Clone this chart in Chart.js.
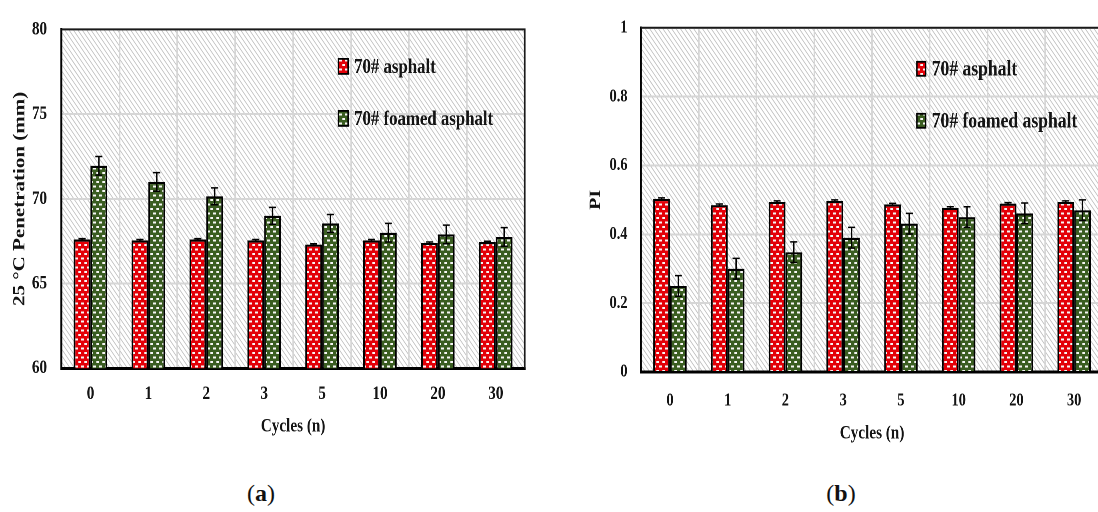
<!DOCTYPE html>
<html>
<head>
<meta charset="utf-8">
<script src="https://cdn.jsdelivr.net/npm/chart.js@4.4.1/dist/chart.umd.min.js"></script>
<style>
html,body{margin:0;padding:0;background:#fff;overflow:hidden;width:1098px;height:512px;}
.panel{position:absolute;top:0;width:700px;height:470px;transform:scaleX(0.8);transform-origin:0 0;}
#pa{left:0}
#pb{left:560px}
.cap{position:absolute;top:480px;font-family:'Liberation Serif',serif;font-size:24px;color:#111;transform:translateX(-50%);}
</style>
</head>
<body>
<div class="panel" id="pa"><canvas id="ca"></canvas></div>
<div class="panel" id="pb"><canvas id="cb"></canvas></div>
<div class="cap" style="left:261px">(<b>a</b>)</div>
<div class="cap" style="left:841px">(<b>b</b>)</div>
<script>
/* ---- data ---- */
const cycles      = ['0','1','2','3','5','10','20','30'];
const seriesNames = ['70# asphalt','70# foamed asphalt'];

// (a) 25 °C penetration, mm
const penBase    = [67.6, 67.55, 67.6, 67.55, 67.3, 67.55, 67.4, 67.45];
const penBaseErr = [0.05, 0.05, 0.05, 0.05, 0.05, 0.05, 0.05, 0.05];
const penFoam    = [71.95, 71.0, 70.15, 69.0, 68.55, 68.0, 67.9, 67.75];
const penFoamErr = [0.55, 0.55, 0.5, 0.5, 0.53, 0.55, 0.55, 0.55];
const penTicks   = [60, 65, 70, 75, 80];

// (b) PI
const piBase    = [0.503, 0.485, 0.494, 0.497, 0.487, 0.477, 0.489, 0.494];
const piBaseErr = [0.003, 0.003, 0.003, 0.003, 0.003, 0.003, 0.003, 0.003];
const piFoam    = [0.25, 0.30, 0.348, 0.39, 0.431, 0.45, 0.461, 0.47];
const piFoamErr = [0.03, 0.03, 0.03, 0.03, 0.03, 0.03, 0.03, 0.03];
const piTicks   = [0, 0.2, 0.4, 0.6, 0.8, 1];

/* ---- look ---- */
const SX = 0.8;   // panels are squeezed sideways like the source figure
const FONT = "'Liberation Serif','Times New Roman',serif";
const INK = '#141414';

// red / green fills with white dots
function dots(base){
  const c = document.createElement('canvas');
  c.width = 15; c.height = 18;
  const g = c.getContext('2d');
  g.fillStyle = base; g.fillRect(0,0,15,18);
  g.fillStyle = '#f6f6f6';
  g.fillRect(1,2,7,4); g.fillRect(8,11,7,4);
  const p = g.createPattern(c,'repeat');
  p.setTransform(new DOMMatrix([0.5,0,0,0.5,0,0]));
  return p;
}
const fills = [dots('#e30008'), dots('#3a5d21')];

// diagonal hatch behind the plot
const hatch = {
  id:'hatch',
  beforeDraw(ch){
    const {ctx, chartArea:a} = ch;
    ctx.save();
    ctx.beginPath(); ctx.rect(a.left,a.top,a.width,a.height); ctx.clip();
    ctx.fillStyle = '#fff'; ctx.fillRect(a.left,a.top,a.width,a.height);
    ctx.strokeStyle = '#c4c4c4'; ctx.lineWidth = 1;
    const k = 0.85*a.height;
    ctx.beginPath();
    for(let x=a.left-k; x<a.right; x+=5.5){ ctx.moveTo(x,a.top); ctx.lineTo(x+k,a.bottom); }
    ctx.stroke();
    ctx.restore();
  }
};

// error bars, frame, legend
const extras = {
  id:'extras',
  afterDatasetsDraw(ch){
    const {ctx} = ch, ys = ch.scales.y;
    ctx.save();
    ctx.strokeStyle = '#000';
    ch.data.datasets.forEach((ds,i)=>{
      ch.getDatasetMeta(i).data.forEach((bar,j)=>{
        const v = ds.data[j], e = ds.errors[j];
        const t = ys.getPixelForValue(v+e), b = ys.getPixelForValue(v-e);
        ctx.lineWidth = 1.8;
        ctx.beginPath(); ctx.moveTo(bar.x,t); ctx.lineTo(bar.x,b); ctx.stroke();
        ctx.lineWidth = 1.5;
        ctx.beginPath();
        ctx.moveTo(bar.x-4.4,t); ctx.lineTo(bar.x+4.4,t);
        ctx.moveTo(bar.x-4.4,b); ctx.lineTo(bar.x+4.4,b);
        ctx.stroke();
      });
    });
    ctx.restore();
  },
  afterDraw(ch,args,o){
    const {ctx, chartArea:a} = ch;
    ctx.save();
    ctx.strokeStyle = '#1a1a1a'; ctx.lineWidth = 2;
    ctx.beginPath();
    ctx.moveTo(a.left,a.top); ctx.lineTo(a.right,a.top); ctx.lineTo(a.right,a.bottom);
    ctx.stroke();
    ch.data.datasets.forEach((ds,i)=>{
      const x = a.left + o.fx*a.width, y = a.top + o.rows[i];
      ctx.fillStyle = ds.backgroundColor;
      ctx.fillRect(x, y-o.mh/2, o.mw, o.mh);
      ctx.strokeStyle = '#000'; ctx.lineWidth = 1.8;
      ctx.strokeRect(x, y-o.mh/2, o.mw, o.mh);
      ctx.fillStyle = INK;
      ctx.font = 'bold '+o.size+'px '+FONT;
      ctx.textBaseline = 'middle'; ctx.textAlign = 'left';
      ctx.fillText(ds.label, x+o.mw+7.5, y+1);
    });
    ctx.restore();
  }
};

function panel(id, o){
  const W = 560/SX, H = 470, a = o.area;
  const l = (a.l-o.left0)/SX, r = (a.r-o.left0)/SX;
  return new Chart(document.getElementById(id),{
    type:'bar',
    data:{
      labels: cycles,
      datasets: o.series.map((s,i)=>({
        label: seriesNames[i], data: s.v, errors: s.e,
        backgroundColor: fills[i], borderColor:'#000', borderWidth:2.2,
        categoryPercentage:0.58, barPercentage:1
      }))
    },
    options:{
      responsive:true, maintainAspectRatio:false, devicePixelRatio:2, animation:false,
      layout:{padding:{left:0, top:a.t, right:W-r, bottom:0}},
      plugins:{
        legend:{display:false}, tooltip:{enabled:false},
        extras:o.legend
      },
      scales:{
        x:{
          grid:{color:'#d6d6d6', lineWidth:2, drawTicks:false, offset:true},
          border:{color:'#000', width:3},
          ticks:{color:INK, font:{family:FONT, size:o.tick, weight:'bold'}, padding:o.xPad, maxRotation:0, autoSkip:false},
          title:{display:true, text:'Cycles (n)', color:INK,
                 font:{family:FONT, size:o.xt, weight:'bold'}, padding:{top:0, bottom:o.xtPad}},
          afterFit(s){ s.height = H - a.b; }
        },
        y:{
          min:o.ticks[0], max:o.ticks[o.ticks.length-1],
          afterBuildTicks(s){ s.ticks = o.ticks.map(v=>({value:v})); },
          grid:{color:'#d6d6d6', lineWidth:2, drawTicks:false},
          border:{color:'#000', width:2.4},
          ticks:{color:INK, font:{family:FONT, size:o.tick, weight:'bold'}, padding:o.yPad,
                 callback:v=>String(+(+v).toFixed(2))},
          title:{display:true, text:o.yTitle, color:INK,
                 font:{family:FONT, size:o.yt, weight:'bold'}, padding:{top:o.ytPad, bottom:0}},
          afterFit(s){ s.width = l; }
        }
      }
    },
    plugins:[hatch, extras]
  });
}

panel('ca',{
  left0:0, area:{l:61.5, r:524.7, t:29, b:368.3},
  series:[{v:penBase, e:penBaseErr},{v:penFoam, e:penFoamErr}],
  ticks:penTicks, yTitle:'25 °C Penetration (mm)',
  tick:19, xPad:14.5, xt:19, xtPad:32, yPad:18, yt:21, ytPad:12.4,
  legend:{fx:0.598, rows:[37,89], mw:12, mh:15, size:21}
});

panel('cb',{
  left0:560, area:{l:641.1, r:1103, t:17.3, b:372},
  series:[{v:piBase, e:piBaseErr},{v:piFoam, e:piFoamErr}],
  ticks:piTicks, yTitle:'PI',
  tick:18, xPad:18, xt:19, xtPad:25, yPad:17, yt:20, ytPad:33,
  legend:{fx:0.597, rows:[41,93], mw:11, mh:14, size:22}
});
</script>
</body>
</html>
